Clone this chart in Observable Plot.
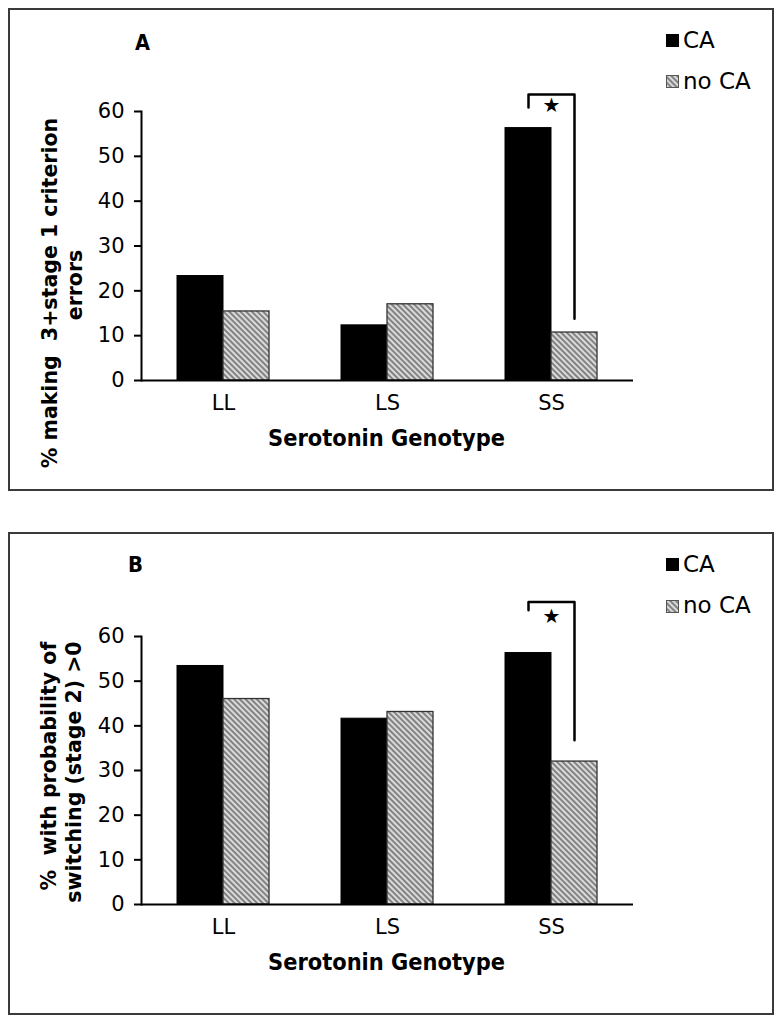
<!DOCTYPE html>
<html>
<head>
<meta charset="utf-8">
<script src="https://cdn.jsdelivr.net/npm/d3@7"></script>
<script src="https://cdn.jsdelivr.net/npm/@observablehq/plot@0.6"></script>
<style>
  html, body { margin: 0; padding: 0; background: #fff; }
  #page { position: relative; width: 781px; height: 1022px; overflow: hidden; background: #fff; }
  .frame { position: absolute; border: 2px solid #3a3a3a; box-sizing: border-box; }
  .plot { position: absolute; left: 0; }
  #overlay { position: absolute; left: 0; top: 0; pointer-events: none; }
  #overlay text { font-family: "DejaVu Sans", sans-serif; fill: #000; }
</style>
</head>
<body>
<div id="page">
  <svg width="0" height="0" style="position:absolute">
    <defs>
      <pattern id="hatch" patternUnits="userSpaceOnUse" width="4" height="4" patternTransform="rotate(-45)">
        <rect width="4" height="4" fill="#dadada"></rect>
        <rect width="2" height="4" fill="#838383"></rect>
      </pattern>
    </defs>
  </svg>
  <div class="frame" style="left:8px;top:8px;width:766px;height:483px"></div>
  <div class="frame" style="left:8px;top:532px;width:766px;height:483px"></div>
  <div id="plotA" class="plot" style="top:0px"></div>
  <div id="plotB" class="plot" style="top:524px"></div>
  <svg id="overlay" width="781" height="1022">
    <!-- panel letters -->
    <text x="135" y="50" font-size="22" font-weight="bold" textLength="15" lengthAdjust="spacingAndGlyphs">A</text>
    <text x="128" y="572" font-size="22" font-weight="bold" textLength="15" lengthAdjust="spacingAndGlyphs">B</text>
    <!-- legends -->
    <rect x="666" y="34" width="13" height="13" fill="#000"></rect>
    <text x="683" y="48" font-size="23">CA</text>
    <rect x="666.5" y="75.5" width="12" height="12" fill="url(#hatch)" stroke="#555" stroke-width="1"></rect>
    <text x="683" y="89" font-size="23">no CA</text>
    <rect x="666" y="558" width="13" height="13" fill="#000"></rect>
    <text x="683" y="572" font-size="23">CA</text>
    <rect x="666.5" y="600.5" width="12" height="12" fill="url(#hatch)" stroke="#555" stroke-width="1"></rect>
    <text x="683" y="613" font-size="23">no CA</text>
    <!-- x titles -->
    <text x="268" y="446" font-size="23" font-weight="bold" textLength="237" lengthAdjust="spacingAndGlyphs">Serotonin Genotype</text>
    <text x="268" y="970" font-size="23" font-weight="bold" textLength="237" lengthAdjust="spacingAndGlyphs">Serotonin Genotype</text>
    <!-- y titles -->
    <text transform="translate(57,293) rotate(-90)" font-size="20.5" font-weight="bold" text-anchor="middle" xml:space="preserve">% making  3+stage 1 criterion</text>
    <text transform="translate(82,285) rotate(-90)" font-size="20.5" font-weight="bold" text-anchor="middle">errors</text>
    <text transform="translate(56,766) rotate(-90)" font-size="20.5" font-weight="bold" text-anchor="middle" xml:space="preserve">%  with probability of</text>
    <text transform="translate(81,772) rotate(-90)" font-size="20.5" font-weight="bold" text-anchor="middle">switching (stage 2) &gt;0</text>
  </svg>
</div>
<script>
// ---- data ----
const genotypes = ["LL", "LS", "SS"];
const conditions = ["CA", "no CA"];
const yTicks = [0, 10, 20, 30, 40, 50, 60];

// Panel A: % making 3+ stage 1 criterion errors
const caA = [23.3, 12.3, 56.3];
const noCaA = [15.4, 17.0, 10.7];
// Panel B: % with probability of switching (stage 2) > 0
const caB = [53.4, 41.6, 56.3];
const noCaB = [46.0, 43.1, 32.0];

// significance bracket (SS genotype)
const sigGenotype = "SS";
const bracketX = ["CA", "CA", "no CA", "no CA"];
const bracketYA = [60.9, 63.8, 63.8, 13.8];
const starYA = 61.3;
const bracketYB = [65.9, 67.7, 67.7, 36.8];
const starYB = 64.4;

function rows(ca, no) {
  return genotypes.flatMap((g, i) => [
    {g, c: conditions[0], v: ca[i]},
    {g, c: conditions[1], v: no[i]}
  ]);
}

function panel(ca, no, bY, sY, marginTop) {
  const data = rows(ca, no);
  const bracket = bracketX.map((c, i) => ({g: sigGenotype, c, v: bY[i]}));
  const star = [{g: sigGenotype, v: sY}];
  return Plot.plot({
    width: 781,
    height: 500,
    marginLeft: 140,
    marginRight: 148,
    marginTop,
    marginBottom: 120,
    style: {fontFamily: "DejaVu Sans, sans-serif", fontSize: "21px", color: "#000", background: "transparent", overflow: "visible"},
    fx: {domain: genotypes, padding: 0, label: null},
    x: {domain: conditions, paddingInner: 0, paddingOuter: 0.75, axis: null},
    y: {domain: [0, 60], label: null},
    marks: [
      Plot.barY(data.filter(d => d.c === "CA"), {fx: "g", x: "c", y: "v", fill: "#000", stroke: "#000", strokeWidth: 1}),
      Plot.barY(data.filter(d => d.c !== "CA"), {fx: "g", x: "c", y: "v", fill: "url(#hatch)", stroke: "#333", strokeWidth: 1.3}),
      Plot.ruleY([0], {stroke: "#000", strokeWidth: 2}),
      Plot.frame({anchor: "left", facetAnchor: "left", stroke: "#000", strokeWidth: 2}),
      Plot.axisY({ticks: yTicks, tickSize: 7, tickPadding: 10, tickFormat: d => String(d), fontSize: 21, label: null, strokeWidth: 2}),
      Plot.axisFx({anchor: "bottom", tickSize: 0, tickPadding: 15, fontSize: 21, label: null}),
      Plot.line(bracket, {fx: "g", x: "c", y: "v", stroke: "#000", strokeWidth: 2.5}),
      Plot.text(star, {fx: "g", y: "v", text: () => "★", frameAnchor: "middle", fontSize: 20, fill: "#000"})
    ]
  });
}

document.getElementById("plotA").appendChild(panel(caA, noCaA, bracketYA, starYA, 111));
document.getElementById("plotB").appendChild(panel(caB, noCaB, bracketYB, starYB, 112));
</script>
</body>
</html>
